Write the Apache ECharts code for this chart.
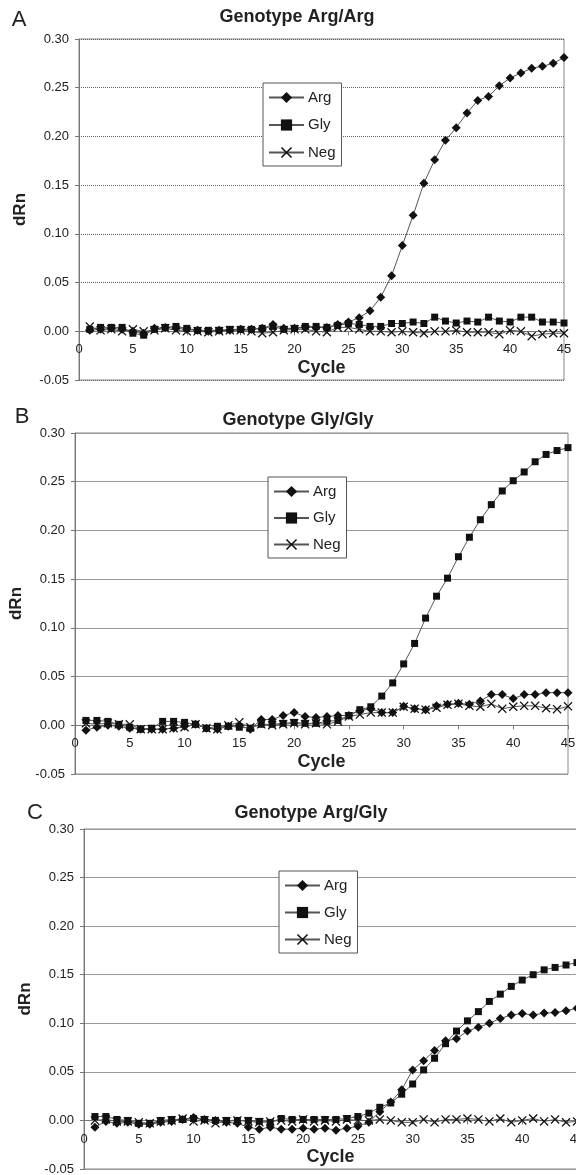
<!DOCTYPE html>
<html><head><meta charset="utf-8">
<script src="https://cdn.jsdelivr.net/npm/echarts@6/dist/echarts.min.js"></script>
<style>html,body{margin:0;padding:0;background:#fff}#c{width:576px;height:1175px}</style>
</head><body><div id="c"></div>
<script>
const cycles = [1,2,3,4,5,6,7,8,9,10,11,12,13,14,15,16,17,18,19,20,21,22,23,24,25,26,27,28,29,30,31,32,33,34,35,36,37,38,39,40,41,42,43,44,45];
const seriesNames = ['Arg','Gly','Neg'];
const panelTitles = ['Genotype Arg/Arg','Genotype Gly/Gly','Genotype Arg/Gly'];
const panelLetters = ['A','B','C'];
const xTicks = [0,5,10,15,20,25,30,35,40,45];
const yTicks = [-0.05,0.00,0.05,0.10,0.15,0.20,0.25,0.30];

const A_arg = [0.001,0.002,0.003,0.002,0.000,-0.002,0.003,0.004,0.003,0.002,0.001,0.000,0.001,0.001,0.002,0.002,0.003,0.007,0.003,0.003,0.004,0.004,0.004,0.007,0.0095,0.014,0.021,0.035,0.057,0.088,0.119,0.152,0.176,0.196,0.209,0.224,0.237,0.241,0.252,0.260,0.265,0.270,0.272,0.275,0.281];
const A_gly = [0.002,0.004,0.004,0.004,-0.002,-0.004,0.002,0.004,0.005,0.003,0.001,0.001,0.001,0.002,0.002,0.002,0.003,0.005,0.002,0.003,0.005,0.005,0.004,0.006,0.008,0.007,0.005,0.005,0.008,0.008,0.0095,0.008,0.0145,0.0105,0.0085,0.0105,0.0095,0.0145,0.0105,0.0095,0.0145,0.0145,0.0095,0.0095,0.0085];
const A_neg = [0.005,0.001,0.002,0.000,0.002,0.000,0.001,0.003,0.001,0.000,0.000,-0.001,0.000,0.001,0.001,0.000,-0.002,-0.001,0.001,0.002,0.002,0.000,-0.001,0.004,0.004,0.002,0.000,0.000,-0.001,0.000,-0.001,-0.002,0.000,0.000,0.001,-0.001,-0.001,-0.001,-0.003,0.001,0.000,-0.005,-0.003,-0.002,-0.002];

const B_arg = [-0.005,-0.002,0.000,-0.001,-0.003,-0.004,-0.004,-0.004,-0.003,-0.001,0.001,-0.003,-0.004,-0.001,0.000,-0.004,0.006,0.006,0.010,0.013,0.009,0.008,0.009,0.010,0.010,0.015,0.017,0.013,0.013,0.0195,0.017,0.016,0.020,0.0215,0.0225,0.0215,0.025,0.0315,0.0315,0.0275,0.0315,0.0315,0.0335,0.0335,0.0335];
const B_gly = [0.005,0.005,0.004,0.001,-0.002,-0.004,-0.003,0.004,0.004,0.003,0.001,-0.003,-0.001,-0.001,-0.002,-0.003,0.001,0.001,0.002,0.003,0.002,0.002,0.004,0.005,0.010,0.016,0.019,0.030,0.0435,0.063,0.084,0.110,0.1325,0.151,0.173,0.193,0.211,0.2265,0.2405,0.251,0.260,0.2705,0.278,0.282,0.285];
const B_neg = [0.002,0.001,0.002,0.001,0.001,-0.004,-0.004,-0.004,-0.003,-0.002,0.001,-0.003,-0.004,0.000,0.003,-0.002,0.001,0.000,0.001,0.002,0.001,0.002,0.001,0.004,0.009,0.011,0.013,0.013,0.013,0.019,0.017,0.016,0.018,0.021,0.022,0.020,0.019,0.022,0.017,0.019,0.020,0.020,0.0175,0.0165,0.0195];

const C_arg = [-0.007,-0.001,-0.003,-0.002,-0.004,-0.004,-0.002,-0.001,0.001,0.003,0.001,0.000,-0.002,-0.003,-0.007,-0.009,-0.007,-0.009,-0.009,-0.008,-0.009,-0.008,-0.010,-0.008,-0.006,-0.002,0.009,0.019,0.0315,0.052,0.0615,0.072,0.082,0.084,0.092,0.096,0.100,0.105,0.1085,0.110,0.1085,0.1105,0.111,0.113,0.1155];
const C_gly = [0.004,0.004,0.001,0.000,-0.003,-0.003,0.000,0.001,0.001,0.002,0.001,0.000,0.000,0.000,0.000,-0.001,-0.002,0.002,0.001,0.001,0.001,0.001,0.001,0.002,0.004,0.0075,0.0135,0.018,0.027,0.0375,0.052,0.064,0.079,0.092,0.1025,0.112,0.1225,0.130,0.138,0.1445,0.150,0.155,0.1575,0.160,0.1625];
const C_neg = [0.000,0.001,-0.001,-0.001,-0.002,-0.003,-0.001,0.000,0.002,-0.001,0.000,-0.003,-0.001,0.000,-0.001,-0.002,-0.001,0.000,-0.001,0.001,-0.001,0.000,-0.001,0.001,0.000,0.000,0.001,0.000,-0.002,-0.002,0.001,-0.002,0.001,0.001,0.002,0.001,-0.001,0.002,-0.002,0.000,0.002,-0.001,0.001,-0.002,-0.001];

const panelData = [[A_arg,A_gly,A_neg],[B_arg,B_gly,B_neg],[C_arg,C_gly,C_neg]];

// layout
const grids = [
  {left:79, right:12, top:39, height:341},
  {left:75, right:8, top:433, height:341},
  {left:84, right:-1, top:829, height:340}
];
const titlePos = [[297,17],[298,420],[311,813]];
const letterPos = [[19,20],[22,417],[35,813]];
const legendPos = [{left:263, top:83, gap:12.5},{left:268, top:477, gap:11.5},{left:279, top:871, gap:12}];
const yNameGap = [44,37,41];
const gridStyles = [{type:'dotted',color:'#666'},{type:'solid',color:'#999'},{type:'solid',color:'#999'}];

const xPath = 'path://M1,0 L5,4 L9,0 L10,1 L6,5 L10,9 L9,10 L5,6 L1,10 L0,9 L4,5 L0,1 Z';
const symbols = ['diamond','rect',xPath];
const symbolSizes = [9,7,9];
const FONT = 'Liberation Sans, Arial, sans-serif';
const yMin = yTicks[0], yMax = yTicks[yTicks.length-1];

const option = {
  animation:false,
  backgroundColor:'#fff',
  grid: grids.map(g => Object.assign({show:true, borderColor:'#888', borderWidth:1, backgroundColor:'#fff', containLabel:false, outerBoundsMode:'none'}, g)),
  // x axis drawn along the value-0 line of its panel
  xAxis: grids.map((g,i) => ({
    type:'value', gridIndex:i, min:xTicks[0], max:xTicks[xTicks.length-1], interval:5,
    position:'bottom', offset: -g.height * (0 - yMin) / (yMax - yMin),
    axisLine:{show:true, onZero:false, lineStyle:{color:'#777', width:1}},
    axisTick:{show:true, length:4, lineStyle:{color:'#777'}},
    axisLabel:{color:'#222', fontSize:13, fontFamily:FONT, margin:12, showMaxLabel:true, showMinLabel:true},
    splitLine:{show:false},
    name:'Cycle', nameLocation:'middle', nameGap:28,
    nameTextStyle:{fontSize:18, fontWeight:'bold', color:'#222', fontFamily:FONT}
  })),
  yAxis: grids.map((g,i) => ({
    type:'value', gridIndex:i, min:yMin, max:yMax, interval:0.05,
    axisLine:{show:true, onZero:false, lineStyle:{color:'#777'}},
    axisTick:{show:true, length:4, lineStyle:{color:'#777'}},
    axisLabel:{color:'#222', fontSize:13, fontFamily:FONT, margin:10, formatter:v => v.toFixed(2)},
    splitLine:{show:true, lineStyle:{color:gridStyles[i].color, type:gridStyles[i].type, width:1}},
    name:'dRn', nameLocation:'middle', nameGap:yNameGap[i], nameRotate:90,
    nameTextStyle:{fontSize:17, fontWeight:'bold', color:'#222', fontFamily:FONT}
  })),
  legend: legendPos.map(p => ({
    left:p.left, top:p.top, orient:'vertical', data:seriesNames,
    itemWidth:35, itemHeight:14, itemGap:p.gap,
    padding:[7,6,6,5],
    backgroundColor:'#fff', borderColor:'#555', borderWidth:1, borderRadius:0,
    textStyle:{fontSize:15, color:'#222', fontFamily:FONT, padding:[0,0,0,-1]},
    selectedMode:false
  })),
  graphic: [],
  series: []
};

panelData.forEach((arr,pi) => {
  [2,1,0].forEach(si => {
    option.series.push({
      type:'line', name:seriesNames[si], xAxisIndex:pi, yAxisIndex:pi,
      data: cycles.map((c,k) => [c, arr[si][k]]),
      symbol:symbols[si], symbolSize:symbolSizes[si], showAllSymbol:true,
      lineStyle:{color:'#555', width:1},
      itemStyle:{color:'#111', borderWidth:0},
      z: 3 + (2-si)
    });
  });
  option.graphic.push({
    type:'text', x:titlePos[pi][0], y:titlePos[pi][1], z:10,
    style:{text:panelTitles[pi], fill:'#222', font:'bold 18px ' + FONT, textAlign:'center', textVerticalAlign:'middle'}
  });
  option.graphic.push({
    type:'text', x:letterPos[pi][0], y:letterPos[pi][1], z:10,
    style:{text:panelLetters[pi], fill:'#222', font:'22px ' + FONT, textAlign:'center', textVerticalAlign:'middle'}
  });
});

const chart = echarts.init(document.getElementById('c'), null, {renderer:'canvas'});
chart.setOption(option);
</script>
</body></html>
